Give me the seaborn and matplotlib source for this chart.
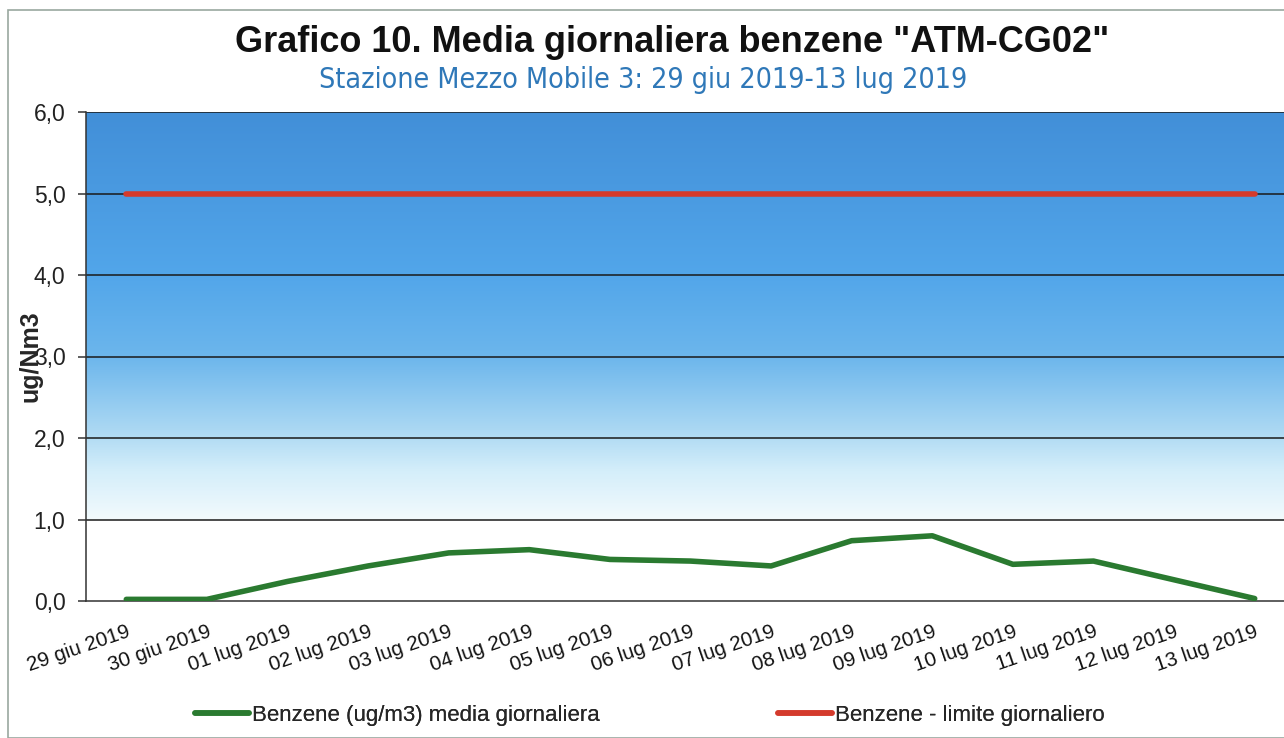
import numpy as np
import pandas as pd
import matplotlib
matplotlib.use("Agg")
import matplotlib.pyplot as plt
from matplotlib.colors import LinearSegmentedColormap
from matplotlib.lines import Line2D
from matplotlib.patches import Rectangle
from matplotlib.transforms import ScaledTranslation
import seaborn as sns

days = ["29 giu 2019", "30 giu 2019", "01 lug 2019", "02 lug 2019", "03 lug 2019",
        "04 lug 2019", "05 lug 2019", "06 lug 2019", "07 lug 2019", "08 lug 2019",
        "09 lug 2019", "10 lug 2019", "11 lug 2019", "12 lug 2019", "13 lug 2019"]
benzene_daily = [0.02, 0.02, 0.24, 0.43, 0.59, 0.63, 0.51, 0.49, 0.43, 0.74,
                 0.80, 0.45, 0.49, 0.26, 0.03]
benzene_limit = [5.0, 5.0, 5.0, 5.0, 5.0, 5.0, 5.0, 5.0, 5.0, 5.0,
                 5.0, 5.0, 5.0, 5.0, 5.0]
y_ticks = [0, 1, 2, 3, 4, 5, 6]
y_tick_labels = ["0,0", "1,0", "2,0", "3,0", "4,0", "5,0", "6,0"]
series_daily = "Benzene (ug/m3) media giornaliera"
series_limit = "Benzene - limite giornaliero"

GREEN = "#2a7a30"
RED = "#d43a2c"

df = pd.DataFrame({"giorno": days, "media": benzene_daily, "limite": benzene_limit})

sns.set_theme(style="white")
plt.rcParams["font.family"] = ["Liberation Sans", "DejaVu Sans"]

fig = plt.figure(figsize=(12.84, 7.38), dpi=100)
W, H = 1284, 738
ax_left, ax_right, ax_top, ax_bottom = 86, 1295, 112, 601
ax = fig.add_axes([ax_left / W, 1 - ax_bottom / H,
                   (ax_right - ax_left) / W, (ax_bottom - ax_top) / H])

# outer chart border
fig.patches.append(Rectangle((8 / W, 0), 1.2, 1 - 10 / H, transform=fig.transFigure,
                             fill=False, edgecolor="#9aa8a0", linewidth=1.2, zorder=0))

ax.set_facecolor("white")
# blue gradient band from 1,0 up to 6,0
grad_cmap = LinearSegmentedColormap.from_list(
    "sky", [(0.0, "#f2fafd"), (0.12, "#d4eefa"), (0.22, "#abd8f3"),
            (0.40, "#6cb6ec"), (0.60, "#52a6ea"), (1.0, "#428fd8")])
grad = np.linspace(0, 1, 256).reshape(-1, 1)
ax.imshow(grad, cmap=grad_cmap, origin="lower", aspect="auto",
          extent=(-0.5, 14.5, 1.0, 6.0), zorder=0)

for yv in y_ticks[1:]:
    ax.axhline(yv, color="#1a1a1a", lw=1.1, zorder=1)

sns.lineplot(data=df, x="giorno", y="limite", ax=ax, color=RED, lw=4.0,
             sort=False, zorder=3, legend=False)
sns.lineplot(data=df, x="giorno", y="media", ax=ax, color=GREEN, lw=4.0,
             sort=False, zorder=4, legend=False)

ax.set_xlim(-0.5, 14.5)
ax.set_ylim(0, 6)
ax.set_yticks(y_ticks)
ax.set_yticklabels(y_tick_labels, fontsize=16.5, color="#222222")
ax.set_xticks(range(len(days)))
ax.set_xticklabels(days, rotation=19, ha="right", rotation_mode="anchor",
                   fontsize=14.8, color="#111111")
shift = ScaledTranslation(-4 / 100, 0, fig.dpi_scale_trans)
for lbl in ax.get_xticklabels():
    lbl.set_transform(lbl.get_transform() + shift)
ax.set_xticks(np.arange(-0.5, 15, 1), minor=True)
ax.tick_params(axis="x", which="major", length=0, pad=15)
ax.tick_params(axis="x", which="minor", length=5, width=1.1, color="#333333", direction="out")
ax.tick_params(axis="y", length=5.8, width=1.1, color="#333333", direction="out", pad=9, left=True)
ax.set_xlabel("")
ax.set_ylabel("ug/Nm3", fontsize=18, fontweight="bold")
ax.yaxis.set_label_coords(-0.036, 0.5)

for side in ["top", "right"]:
    ax.spines[side].set_visible(False)
for side in ["left", "bottom"]:
    ax.spines[side].set_color("#333333")
    ax.spines[side].set_linewidth(1.1)

fig.text(672 / W, 1 - 43 / H, 'Grafico 10. Media giornaliera benzene "ATM-CG02"',
         ha="center", va="center", fontsize=26, fontweight="bold", color="#111111")
fig.text(643 / W, 1 - 80 / H, "Stazione Mezzo Mobile 3: 29 giu 2019-13 lug 2019",
         ha="center", va="center", fontsize=20.5, color="#2f78b8",
         family=["DejaVu Sans"], stretch="condensed")

# legend entries placed individually along the bottom
leg_y = 1 - 715 / H
for color, label, x0 in [(GREEN, series_daily, 195), (RED, series_limit, 778)]:
    leg = fig.legend([Line2D([], [], color=color, lw=4.0)], [label],
                     loc="center left", bbox_to_anchor=(x0 / W, leg_y),
                     frameon=False, fontsize=16, handlelength=2.45,
                     handletextpad=0.12, borderpad=0, borderaxespad=0)
    fig.add_artist(leg)

fig.savefig("out.png", dpi=100)
